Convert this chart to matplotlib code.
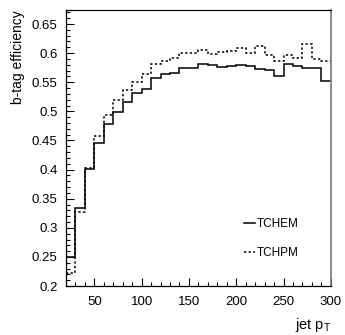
import matplotlib
matplotlib.use("Agg")
import matplotlib.pyplot as plt
from matplotlib.ticker import MultipleLocator

plt.rcParams['font.family'] = ['Liberation Sans', 'DejaVu Sans']
plt.rcParams['mathtext.fontset'] = 'custom'
plt.rcParams['mathtext.rm'] = 'Liberation Sans'

bin_edges = [20, 30, 40, 50, 60, 70, 80, 90, 100, 110, 120, 130, 140, 150, 160,
             170, 180, 190, 200, 210, 220, 230, 240, 250, 260, 270, 280, 290, 300]
tchem = [0.250, 0.334, 0.401, 0.446, 0.478, 0.499, 0.516, 0.531, 0.539, 0.557,
         0.565, 0.566, 0.574, 0.575, 0.582, 0.580, 0.577, 0.578, 0.580, 0.578,
         0.572, 0.571, 0.561, 0.582, 0.578, 0.574, 0.575, 0.552]
tchpm = [0.222, 0.327, 0.403, 0.458, 0.493, 0.520, 0.536, 0.551, 0.565, 0.581,
         0.587, 0.592, 0.601, 0.601, 0.606, 0.598, 0.602, 0.604, 0.608, 0.600,
         0.612, 0.597, 0.587, 0.596, 0.592, 0.615, 0.590, 0.586]

fig = plt.figure(figsize=(3.45, 3.35), dpi=100)
ax = fig.add_axes([0.191, 0.146, 0.768, 0.824])

ax.stairs(tchem, bin_edges, color='black', lw=1.1, label='TCHEM', baseline=None)
ax.stairs(tchpm, bin_edges, color='black', lw=1.1, linestyle=(0, (1.5, 1.5)),
          label='TCHPM', baseline=None)

ax.set_xlim(20, 300)
ax.set_ylim(0.2, 0.674)
ax.xaxis.set_major_locator(MultipleLocator(50))
ax.xaxis.set_minor_locator(MultipleLocator(10))
ax.yaxis.set_major_locator(MultipleLocator(0.05))
ax.yaxis.set_minor_locator(MultipleLocator(0.01))
ax.yaxis.set_major_formatter(matplotlib.ticker.FuncFormatter(lambda v, p: f"{v:g}"))

ax.tick_params(axis='both', which='both', direction='in', labelsize=9.5, width=0.8,
               colors='black')
ax.tick_params(axis='both', which='major', length=6)
ax.tick_params(axis='both', which='minor', length=3)
ax.tick_params(axis='y', pad=6)
ax.tick_params(axis='x', pad=7)

for s in ['left', 'bottom', 'top']:
    ax.spines[s].set_linewidth(0.9)
    ax.spines[s].set_color('black')
ax.spines['right'].set_color('#777777')
ax.spines['right'].set_linewidth(1.2)

ax.set_ylabel('b-tag efficiency', fontsize=10, loc='top', labelpad=5)
ax.set_xlabel('jet p$_\\mathregular{T}$', fontsize=10.5, loc='right', labelpad=6)

leg = ax.legend(loc='upper left', bbox_to_anchor=(0.655, 0.263), frameon=False,
                fontsize=8.5, handlelength=0.9, handletextpad=0.2,
                labelspacing=1.4, borderaxespad=0)

fig.savefig('out.png', dpi=100)
